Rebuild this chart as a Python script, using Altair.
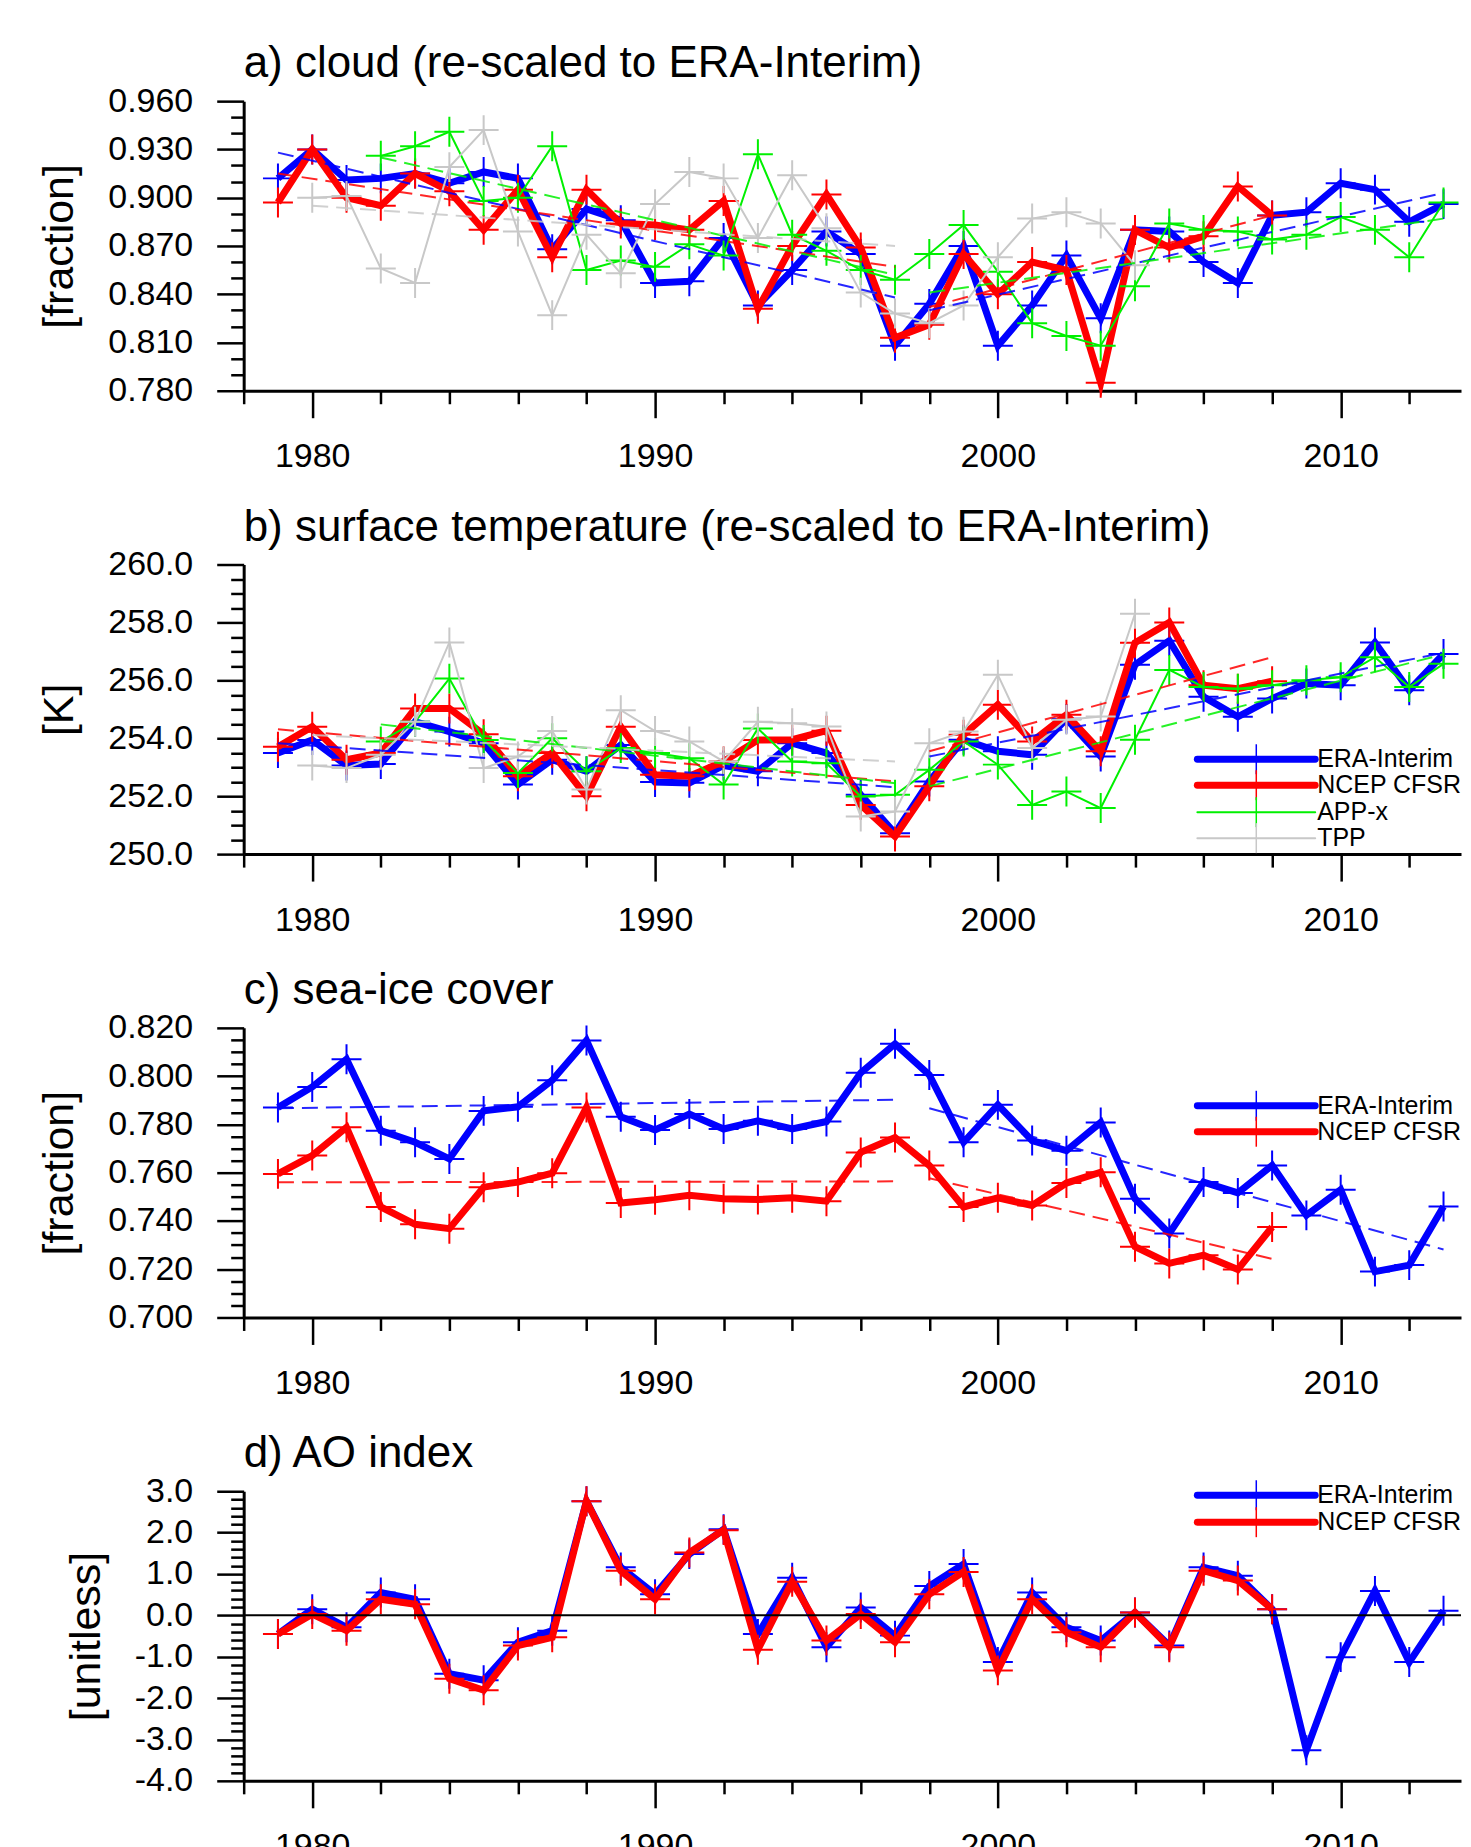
import altair as alt
import pandas as pd

# ---------------- data ----------------
years_era = list(range(1979, 2014))
years_ncep = list(range(1979, 2009))
years_app = list(range(1982, 2014))
years_tpp = list(range(1980, 2005))

# a) cloud
cloud_era = [0.912, 0.930, 0.911, 0.912, 0.915, 0.909, 0.916, 0.912, 0.868, 0.893,
             0.886, 0.847, 0.848, 0.875, 0.833, 0.855, 0.879, 0.865, 0.808, 0.834,
             0.870, 0.808, 0.833, 0.864, 0.825, 0.880, 0.879, 0.860, 0.847, 0.889,
             0.891, 0.909, 0.905, 0.885, 0.896]
cloud_ncep = [0.897, 0.930, 0.900, 0.895, 0.915, 0.904, 0.880, 0.905, 0.863, 0.905,
              0.884, 0.883, 0.880, 0.898, 0.831, 0.870, 0.902, 0.869, 0.813, 0.821,
              0.865, 0.840, 0.860, 0.855, 0.785, 0.880, 0.869, 0.876, 0.907, 0.889]
cloud_app = [0.926, 0.932, 0.941, 0.898, 0.900, 0.932, 0.855, 0.861, 0.857, 0.871,
             0.864, 0.927, 0.877, 0.867, 0.855, 0.849, 0.865, 0.883, 0.854, 0.822,
             0.814, 0.808, 0.845, 0.884, 0.880, 0.879, 0.874, 0.877, 0.888, 0.880,
             0.863, 0.897]
cloud_tpp = [0.900, 0.901, 0.856, 0.847, 0.919, 0.942, 0.879, 0.827, 0.877, 0.853,
             0.896, 0.916, 0.912, 0.875, 0.914, 0.881, 0.841, 0.828, 0.822, 0.833,
             0.863, 0.887, 0.891, 0.884, 0.858]
# trend segments: [start year, start value, end year, end value]
cloud_trend_era = [[1979, 0.928, 1997, 0.838], [1998, 0.830, 2013, 0.903]]
cloud_trend_ncep = [[1979, 0.915, 1997, 0.857], [1998, 0.832, 2008, 0.889]]
cloud_trend_app = [[1982, 0.925, 1997, 0.852], [1998, 0.841, 2013, 0.887]]
cloud_trend_tpp = [[1980, 0.895, 1997, 0.870]]

# b) surface temperature
tsurf_era = [253.49, 253.94, 253.06, 253.11, 254.57, 254.23, 253.83, 252.40, 253.26, 252.86,
             253.77, 252.49, 252.46, 253.06, 252.86, 253.83, 253.49, 252.05, 250.72, 252.51,
             253.95, 253.55, 253.43, 254.67, 253.37, 256.54, 257.37, 255.43, 254.74, 255.37,
             255.89, 255.83, 257.31, 255.66, 256.91]
tsurf_ncep = [253.71, 254.40, 253.26, 253.49, 255.03, 255.03, 254.14, 252.69, 253.49, 252.00,
              254.40, 252.74, 252.69, 253.20, 253.94, 253.95, 254.26, 251.70, 250.61, 252.34,
              254.12, 255.16, 253.89, 254.81, 253.55, 257.30, 258.00, 255.83, 255.71, 255.97]
tsurf_app = [253.89, 254.57, 256.06, 253.94, 252.80, 254.00, 252.86, 253.66, 253.49, 253.31,
             252.40, 254.34, 253.20, 253.14, 251.99, 252.05, 252.91, 253.89, 253.09, 251.70,
             252.16, 251.59, 253.95, 256.36, 255.77, 255.71, 255.83, 256.00, 256.11, 256.80,
             255.77, 256.57]
tsurf_tpp = [253.06, 252.97, 253.43, 254.57, 257.31, 252.97, 253.37, 254.25, 252.23, 254.97,
             254.25, 253.89, 253.20, 254.57, 254.52, 254.41, 251.30, 251.47, 253.83, 254.23,
             256.19, 253.66, 254.64, 254.75, 258.30]
tsurf_trend_era = [[1979, 253.83, 1997, 252.31], [1998, 253.37, 2013, 256.95]]
tsurf_trend_ncep = [[1979, 254.31, 1997, 252.51], [1998, 253.55, 2008, 256.80]]
tsurf_trend_app = [[1982, 254.48, 1997, 252.45], [1998, 252.34, 2013, 256.90]]
tsurf_trend_tpp = [[1980, 254.11, 1997, 253.20]]

# c) sea-ice cover
ice_era = [0.7870, 0.7955, 0.8070, 0.7774, 0.7726, 0.7657, 0.7856, 0.7873, 0.7983, 0.8148,
           0.7832, 0.7777, 0.7843, 0.7781, 0.7815, 0.7781, 0.7812, 0.8014, 0.8134, 0.8005,
           0.7726, 0.7881, 0.7733, 0.7691, 0.7808, 0.7492, 0.7348, 0.7561, 0.7516, 0.7630,
           0.7423, 0.7529, 0.7190, 0.7217, 0.7460]
ice_ncep = [0.7595, 0.7671, 0.7788, 0.7458, 0.7386, 0.7368, 0.7540, 0.7561, 0.7598, 0.7870,
            0.7474, 0.7488, 0.7506, 0.7492, 0.7489, 0.7496, 0.7482, 0.7684, 0.7746, 0.7630,
            0.7458, 0.7496, 0.7464, 0.7557, 0.7602, 0.7293, 0.7224, 0.7258, 0.7199, 0.7375]
ice_trend_era = [[1979, 0.7867, 1997, 0.7902], [1998, 0.7867, 2013, 0.7282]]
ice_trend_ncep = [[1979, 0.7560, 1997, 0.7564], [1998, 0.7577, 2008, 0.7243]]

# d) AO index
ao_era = [-0.45, 0.15, -0.29, 0.55, 0.39, -1.41, -1.57, -0.65, -0.37, 2.76,
          1.16, 0.51, 1.48, 2.08, -0.45, 0.91, -0.77, 0.19, -0.49, 0.71,
          1.24, -1.13, 0.55, -0.29, -0.61, 0.07, -0.73, 1.16, 0.96, 0.15,
          -3.26, -1.01, 0.59, -1.13, 0.11]
ao_ncep = [-0.45, 0.03, -0.37, 0.39, 0.27, -1.53, -1.81, -0.73, -0.53, 2.76,
           1.08, 0.39, 1.52, 2.06, -0.83, 0.81, -0.61, 0.03, -0.65, 0.51,
           1.05, -1.33, 0.39, -0.41, -0.77, 0.07, -0.77, 1.08, 0.84, 0.15]
ao_zero = [0.0]

series_names = ["ERA-Interim", "NCEP CFSR", "APP-x", "TPP"]
colors = {"ERA-Interim": "#0000ff", "NCEP CFSR": "#ff0000",
          "APP-x": "#00f000", "TPP": "#c8c8c8"}
widths = {"ERA-Interim": 7, "NCEP CFSR": 7, "APP-x": 2, "TPP": 2}

# ---------------- styling ----------------
FONT = "Liberation Sans"
W, H = 1219, 290
XDOM = [1978, 2013.51]
XTICKS = list(range(1978, 2014, 2))
CROSS = "M-1,0H1M0,-1V1"
LX0, LX1, LXC, LXT = 955, 1073, 1014, 1075


def make_panel(title, ytitle, ydom, minor, major, fmt, series, trends, legend, zero=None):
    xs = alt.Scale(domain=XDOM, nice=False, zero=False)
    ys = alt.Scale(domain=ydom, nice=False, zero=False)
    n = int(round((ydom[1] - ydom[0]) / minor))
    yvals = [round(ydom[0] + i * minor, 6) for i in range(n + 1)]
    ytest = f"abs(datum.value/{major} - round(datum.value/{major})) < 0.001"
    xaxis = alt.Axis(values=XTICKS, title=None, grid=False, format="d",
                     labelExpr="datum.value % 10 == 0 ? datum.label : ''",
                     tickSize={"condition": {"test": "datum.value % 10 == 0", "value": 27}, "value": 13},
                     labelPadding=22, labelFlush=False, labelOverlap=False)
    yaxis = alt.Axis(values=yvals, title=ytitle, grid=False,
                     labelExpr=f"{ytest} ? replace(format(datum.value, '{fmt}'), '\u2212', '-') : ''",
                     tickSize={"condition": {"test": ytest, "value": 27}, "value": 13},
                     labelPadding=24, titlePadding=26, labelFlush=False, labelOverlap=False)
    ex = alt.X("year:Q", scale=xs, axis=xaxis)
    ey = alt.Y("value:Q", scale=ys, axis=yaxis)

    layers = []
    for name, yrs, vals in series:
        df = pd.DataFrame({"year": yrs, "value": vals})
        c = colors[name]
        layers.append(alt.Chart(df).mark_line(color=c, strokeWidth=widths[name]).encode(x=ex, y=ey))
        layers.append(alt.Chart(df).mark_point(shape=CROSS, size=900, filled=False, strokeWidth=2,
                                               color=c, opacity=1).encode(x=ex, y=ey))
    for name, segs in trends:
        rows = []
        for k, (y0, v0, y1, v1) in enumerate(segs):
            rows.append({"seg": k, "year": y0, "value": v0})
            rows.append({"seg": k, "year": y1, "value": v1})
        tdf = pd.DataFrame(rows)
        layers.append(alt.Chart(tdf).mark_line(color=colors[name], strokeWidth=2,
                                               strokeDash=[16, 8], opacity=0.85)
                      .encode(x=ex, y=ey, detail="seg:N"))
    if zero is not None:
        zdf = pd.DataFrame({"value": zero})
        layers.append(alt.Chart(zdf).mark_rule(color="black", strokeWidth=2).encode(y=ey))
    for name, ypx in legend:
        ldf = pd.DataFrame({"label": [name]})
        c = colors[name]
        layers.append(alt.Chart(ldf).mark_rule(color=c, strokeWidth=widths[name], strokeCap="round")
                      .encode(x=alt.value(LX0), x2=alt.value(LX1), y=alt.value(ypx)))
        layers.append(alt.Chart(ldf).mark_rule(color=c, strokeWidth=1.5)
                      .encode(x=alt.value(LXC), y=alt.value(ypx - 15), y2=alt.value(ypx + 15)))
        layers.append(alt.Chart(ldf).mark_text(align="left", baseline="middle", font=FONT,
                                               fontSize=25, color="black")
                      .encode(x=alt.value(LXT), y=alt.value(ypx), text="label:N"))
    return alt.layer(*layers).properties(
        width=W, height=H,
        title=alt.TitleParams(title, anchor="start", frame="group", fontSize=44, font=FONT,
                              fontWeight="normal", color="black", offset=-2))


pa = make_panel("a) cloud (re-scaled to ERA-Interim)", "[fraction]", [0.78, 0.96], 0.01, 0.03, ".3f",
                [("ERA-Interim", years_era, cloud_era), ("NCEP CFSR", years_ncep, cloud_ncep),
                 ("APP-x", years_app, cloud_app), ("TPP", years_tpp, cloud_tpp)],
                [("ERA-Interim", cloud_trend_era), ("NCEP CFSR", cloud_trend_ncep),
                 ("APP-x", cloud_trend_app), ("TPP", cloud_trend_tpp)],
                [])
pb = make_panel("b) surface temperature (re-scaled to ERA-Interim)", "[K]", [250, 260], 0.5, 2, ".1f",
                [("ERA-Interim", years_era, tsurf_era), ("NCEP CFSR", years_ncep, tsurf_ncep),
                 ("APP-x", years_app, tsurf_app), ("TPP", years_tpp, tsurf_tpp)],
                [("ERA-Interim", tsurf_trend_era), ("NCEP CFSR", tsurf_trend_ncep),
                 ("APP-x", tsurf_trend_app), ("TPP", tsurf_trend_tpp)],
                [("ERA-Interim", 195), ("NCEP CFSR", 221), ("APP-x", 248), ("TPP", 274)])
pc = make_panel("c) sea-ice cover", "[fraction]", [0.70, 0.82], 0.005, 0.02, ".3f",
                [("ERA-Interim", years_era, ice_era), ("NCEP CFSR", years_ncep, ice_ncep)],
                [("ERA-Interim", ice_trend_era), ("NCEP CFSR", ice_trend_ncep)],
                [("ERA-Interim", 78), ("NCEP CFSR", 104)])
pd_ = make_panel("d) AO index", "[unitless]", [-4.0, 3.0], 0.2, 1.0, ".1f",
                 [("ERA-Interim", years_era, ao_era), ("NCEP CFSR", years_ncep, ao_ncep)],
                 [],
                 [("ERA-Interim", 4), ("NCEP CFSR", 31)],
                 zero=ao_zero)

chart = alt.vconcat(pa, pb, pc, pd_, spacing=174, bounds="flush").properties(
    padding={"left": 30, "top": 33, "right": 0, "bottom": 0}
).configure_view(stroke=None).configure_axis(
    domainColor="black", domainWidth=3, tickColor="black", tickWidth=2.5,
    labelColor="black", labelFont=FONT, labelFontSize=34,
    titleFont=FONT, titleFontSize=43, titleFontWeight="normal", titleColor="black"
)

chart.save("out.html", embed_options={"renderer": "svg", "actions": False})
